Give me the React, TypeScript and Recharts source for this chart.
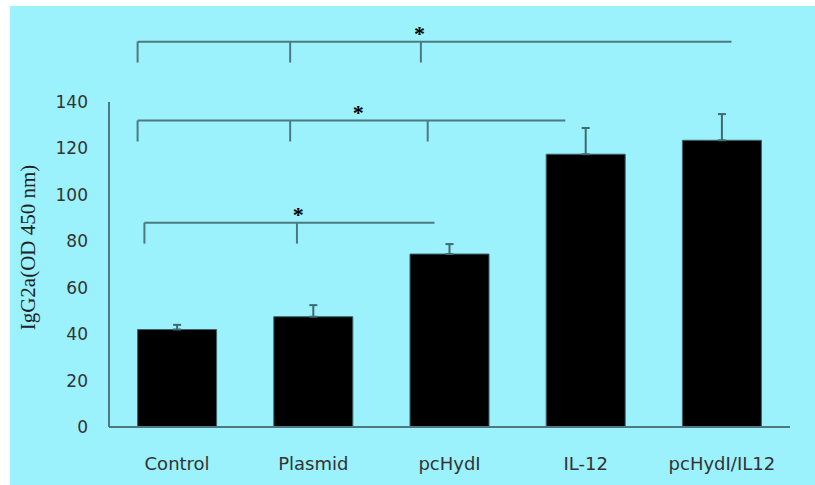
import { Bar, BarChart, ErrorBar, ReferenceDot, ReferenceLine, XAxis, YAxis } from "recharts"

const groups = ["Control", "Plasmid", "pcHydI", "IL-12", "pcHydI/IL12"]
const means = [42, 47.5, 74.5, 117.5, 123.5]
const errors = [2, 5, 4.3, 11.3, 11.3]
const yTicks = [0, 20, 40, 60, 80, 100, 120, 140]

// significance brackets, x in category units (0..5), y in data units
const bracketLevels = [166, 132, 88]
const bracketStarts = [0.21, 0.21, 0.26]
const bracketEnds = [4.57, 3.35, 2.39]
const bracketTicks = [[1.33, 2.29], [1.33, 2.34], [1.38]]
const starX = [2.28, 1.83, 1.39]
const bracketDrop = 9

const CYAN = "#9bf1fc"
const LINE = "#4d7a80"
const SANS = "DejaVu Sans, sans-serif"

const chartData = groups.map((name, i) => ({
  name,
  pos: i + 0.5,
  mean: means[i],
  err: [0, errors[i]],
}))

const YLabel = ({ viewBox }: any) => {
  const cx = viewBox.x + 28
  const cy = viewBox.y + viewBox.height / 2 - 17
  return (
    <text
      x={cx}
      y={cy}
      transform={`rotate(-90 ${cx} ${cy})`}
      textAnchor="middle"
      dominantBaseline="central"
      fontFamily="Liberation Serif, serif"
      fontSize={21}
      fill="#222"
    >
      IgG2a(OD 450 nm)
    </text>
  )
}

const Star = ({ cx, cy }: any) => (
  <text x={cx} y={cy + 10} textAnchor="middle" fontFamily="Liberation Serif, serif" fontWeight="bold" fontSize={22} fill="#000">
    *
  </text>
)

export default function App() {
  return (
    <div style={{ position: "absolute", left: 0, top: 0, width: 815, height: 485, background: "#fff" }}>
      <div style={{ position: "absolute", left: 10, top: 6, right: 0, bottom: 0, background: CYAN }} />
      <div style={{ position: "absolute", left: 0, top: 0 }}>
        <BarChart
          width={815}
          height={485}
          data={chartData}
          margin={{ top: 102, right: 25, bottom: 28, left: 0 }}
          barCategoryGap="21%"
        >
          <XAxis
            dataKey="name"
            height={30}
            axisLine={{ stroke: LINE, strokeWidth: 2 }}
            tickLine={false}
            tickSize={0}
            tickMargin={30}
            tick={{ fontSize: 18, fill: "#333", fontFamily: SANS }}
            interval={0}
          />
          <XAxis xAxisId="pos" dataKey="pos" type="number" domain={[0, 5]} allowDataOverflow hide />
          <YAxis
            width={109}
            domain={[0, 140]}
            ticks={yTicks}
            interval={0}
            axisLine={{ stroke: LINE, strokeWidth: 2 }}
            tickLine={false}
            tickSize={0}
            tickMargin={21}
            tick={{ fontSize: 17, fill: "#333", fontFamily: SANS }}
            label={{ content: YLabel }}
          />
          <Bar dataKey="mean" fill="#000" stroke="#3d6166" strokeWidth={1} isAnimationActive={false}>
            <ErrorBar dataKey="err" direction="y" width={4} stroke="#3f6a70" strokeWidth={2} isAnimationActive={false} />
          </Bar>

          {bracketLevels.map((level, i) => (
            <ReferenceLine
              key={`h${i}`}
              xAxisId="pos"
              ifOverflow="visible"
              segment={[
                { x: bracketStarts[i], y: level },
                { x: bracketEnds[i], y: level },
              ]}
              stroke={LINE}
              strokeWidth={2}
            />
          ))}
          {bracketLevels.map((level, i) =>
            [bracketStarts[i], ...bracketTicks[i]].map((x, j) => (
              <ReferenceLine
                key={`v${i}-${j}`}
                xAxisId="pos"
                ifOverflow="visible"
                segment={[
                  { x, y: level },
                  { x, y: level - bracketDrop },
                ]}
                stroke={LINE}
                strokeWidth={2}
              />
            ))
          )}
          {bracketLevels.map((level, i) => (
            <ReferenceDot
              key={`s${i}`}
              xAxisId="pos"
              x={starX[i]}
              y={level + 4.5}
              r={0}
              ifOverflow="visible"
              shape={Star}
            />
          ))}
        </BarChart>
      </div>
    </div>
  )
}
